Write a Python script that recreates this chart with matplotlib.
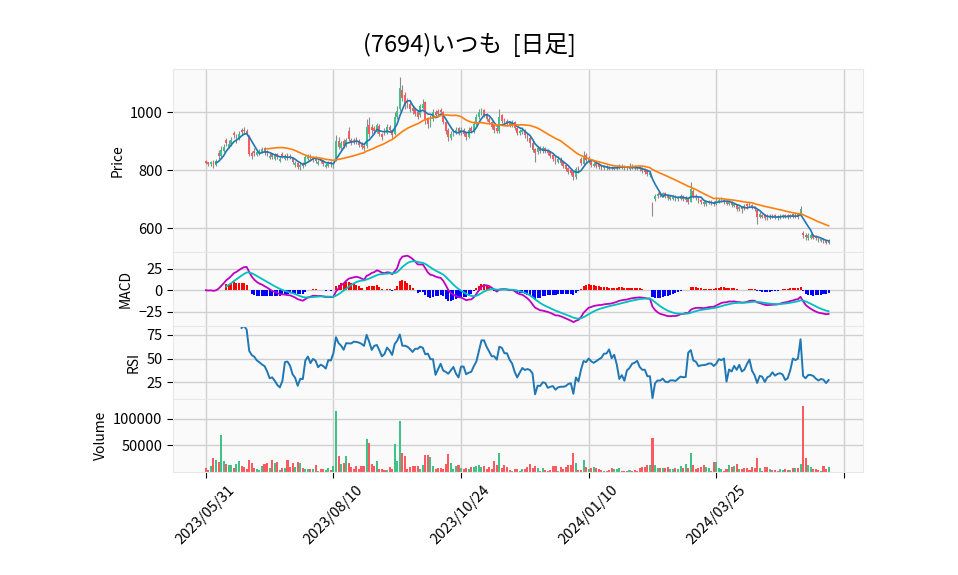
import numpy as np
import pandas as pd
import matplotlib
matplotlib.use('Agg')
import matplotlib.pyplot as plt

plt.rcParams['font.family'] = ['Noto Sans CJK JP', 'DejaVu Sans']

title = '(7694)いつも  [日足]'
tick_pos = [0, 50, 100, 150, 200, 250]
tick_labels = ['2023/05/31', '2023/08/10', '2023/10/24', '2024/01/10', '2024/03/25', '']

# daily OHLCV (245 sessions)
opens = [
    832, 828, 820, 830, 818, 858, 848, 868, 905, 880,
    890, 928, 900, 912, 938, 940, 936, 918, 860, 868,
    852, 858, 862, 875, 866, 842, 856, 840, 856, 832,
    856, 840, 852, 850, 842, 818, 826, 810, 822, 818,
    840, 850, 836, 845, 822, 838, 832, 812, 816, 828,
    815, 835, 902, 878, 900, 885, 935, 905, 905, 908,
    902, 890, 885, 882, 955, 948, 945, 932, 952, 925,
    938, 930, 950, 938, 925, 985, 1010, 1078, 1060, 1038,
    1030, 1015, 1010, 1000, 990, 1015, 1035, 980, 955, 975,
    1002, 1005, 1008, 1000, 965, 940, 912, 925, 930, 945,
    928, 940, 928, 915, 945, 935, 960, 985, 995, 1008,
    992, 978, 965, 955, 945, 935, 990, 975, 970, 962,
    955, 965, 945, 928, 932, 938, 922, 912, 895, 872,
    862, 878, 866, 875, 868, 862, 852, 842, 830, 840,
    828, 818, 808, 800, 795, 775, 808, 840, 822, 852,
    832, 835, 815, 825, 820, 815, 806, 814, 810, 812,
    804, 806, 808, 816, 814, 812, 805, 815, 814, 812,
    810, 808, 804, 800, 785, 685, 700, 710, 722, 712,
    720, 714, 702, 702, 710, 700, 702, 712, 698, 705,
    692, 728, 712, 705, 698, 692, 682, 686, 692, 690,
    684, 692, 694, 698, 692, 684, 692, 676, 680, 665,
    672, 678, 682, 685, 680, 674, 662, 640, 646, 644,
    644, 636, 646, 644, 642, 636, 640, 646, 645, 638,
    648, 640, 648, 645, 582, 578, 566, 568, 575, 572,
    566, 556, 562, 556, 550,
]
highs = [
    835, 830, 832, 834, 840, 870, 885, 892, 912, 905,
    915, 935, 925, 935, 945, 948, 942, 922, 868, 875,
    870, 872, 880, 880, 870, 858, 860, 858, 860, 845,
    862, 855, 858, 855, 846, 832, 830, 825, 828, 852,
    856, 855, 850, 848, 835, 842, 835, 825, 832, 832,
    830, 922, 915, 902, 908, 912, 948, 912, 910, 915,
    908, 896, 892, 975, 985, 958, 952, 962, 958, 930,
    945, 958, 955, 942, 1000, 1020, 1122, 1095, 1070, 1048,
    1035, 1022, 1015, 1008, 1028, 1045, 1040, 985, 990, 1010,
    1008, 1012, 1015, 1005, 970, 945, 935, 942, 948, 950,
    948, 945, 932, 948, 952, 968, 995, 1010, 1015, 1012,
    998, 985, 970, 962, 952, 1010, 995, 980, 975, 968,
    972, 968, 950, 942, 948, 942, 928, 918, 900, 878,
    882, 882, 882, 880, 872, 865, 856, 848, 848, 845,
    832, 822, 812, 806, 800, 812, 815, 845, 865, 858,
    848, 840, 828, 830, 825, 820, 818, 818, 815, 816,
    815, 818, 822, 820, 818, 816, 825, 820, 818, 816,
    815, 812, 808, 805, 798, 690, 718, 724, 726, 726,
    725, 718, 716, 714, 714, 712, 718, 716, 712, 708,
    758, 735, 718, 710, 702, 696, 695, 698, 696, 694,
    708, 705, 706, 702, 696, 698, 695, 688, 684, 678,
    676, 682, 688, 690, 684, 678, 665, 655, 650, 648,
    648, 648, 650, 648, 646, 648, 650, 650, 648, 650,
    652, 652, 652, 678, 590, 582, 584, 582, 580, 576,
    570, 568, 566, 560, 562,
]
lows = [
    822, 815, 816, 808, 815, 840, 845, 862, 885, 875,
    885, 912, 895, 905, 920, 925, 918, 850, 840, 850,
    848, 852, 858, 852, 850, 838, 838, 836, 840, 828,
    842, 836, 835, 838, 822, 812, 805, 802, 808, 815,
    835, 832, 830, 825, 818, 825, 815, 808, 812, 812,
    808, 832, 872, 870, 878, 880, 900, 888, 890, 892,
    880, 872, 865, 878, 915, 925, 925, 928, 918, 905,
    920, 925, 932, 912, 920, 978, 1005, 1040, 1010, 1015,
    1000, 995, 988, 975, 985, 1010, 960, 945, 950, 970,
    982, 985, 990, 958, 925, 900, 905, 918, 925, 922,
    922, 918, 905, 910, 928, 930, 955, 978, 990, 982,
    968, 958, 942, 930, 928, 930, 962, 955, 952, 948,
    950, 938, 922, 922, 925, 912, 900, 880, 862, 830,
    855, 860, 860, 858, 852, 842, 832, 822, 825, 818,
    808, 798, 788, 782, 765, 770, 792, 818, 818, 828,
    826, 812, 810, 808, 805, 802, 802, 802, 800, 800,
    800, 802, 805, 805, 802, 800, 802, 805, 802, 800,
    798, 792, 788, 780, 775, 643, 695, 705, 708, 708,
    705, 698, 698, 698, 695, 695, 698, 695, 692, 685,
    690, 705, 698, 688, 684, 676, 678, 682, 680, 676,
    680, 688, 690, 685, 680, 680, 672, 672, 660, 660,
    652, 664, 668, 672, 665, 658, 616, 635, 634, 628,
    630, 632, 634, 632, 630, 632, 636, 634, 632, 634,
    634, 636, 632, 642, 568, 560, 560, 562, 562, 558,
    552, 552, 548, 545, 546,
]
closes = [
    826, 822, 828, 818, 832, 850, 870, 880, 895, 890,
    905, 920, 910, 925, 932, 935, 928, 855, 848, 858,
    862, 865, 872, 860, 858, 850, 845, 852, 846, 838,
    850, 848, 842, 845, 830, 825, 812, 818, 815, 845,
    850, 840, 845, 832, 828, 832, 822, 818, 826, 820,
    825, 900, 880, 895, 885, 905, 908, 895, 898, 900,
    888, 880, 878, 950, 925, 940, 935, 955, 925, 915,
    930, 950, 940, 920, 985, 1005, 1085, 1050, 1025, 1030,
    1010, 1005, 995, 985, 1020, 1030, 975, 960, 980, 1000,
    990, 995, 1000, 965, 935, 915, 925, 935, 940, 930,
    940, 925, 915, 940, 935, 960, 985, 1000, 1010, 990,
    975, 965, 950, 940, 935, 985, 970, 965, 960, 955,
    965, 945, 930, 935, 940, 920, 910, 895, 870, 860,
    875, 868, 875, 865, 860, 850, 840, 830, 840, 825,
    815, 805, 795, 790, 775, 805, 800, 825, 850, 835,
    840, 818, 822, 815, 812, 808, 812, 808, 805, 806,
    810, 812, 815, 810, 808, 806, 812, 810, 808, 806,
    805, 798, 795, 788, 792, 675, 712, 718, 715, 720,
    712, 705, 710, 708, 702, 706, 712, 700, 705, 690,
    735, 712, 705, 695, 690, 684, 690, 692, 686, 682,
    695, 698, 700, 690, 685, 692, 680, 682, 668, 672,
    665, 670, 675, 680, 672, 665, 640, 648, 640, 635,
    638, 642, 640, 638, 636, 642, 645, 640, 638, 645,
    640, 646, 640, 668, 575, 570, 578, 576, 568, 565,
    560, 562, 555, 550, 556,
]
volumes = [
    8600, 4300, 11700, 26500, 22200, 18500, 69000, 21000, 15400, 13600,
    13600, 7400, 14800, 20400, 11700, 10500, 6200, 22800, 17900, 8600,
    6200, 4300, 11700, 15400, 17300, 8600, 22800, 17900, 19100, 4300,
    7400, 7400, 22800, 9900, 16700, 10500, 19100, 17300, 7400, 6200,
    6200, 6200, 6200, 13600, 3100, 6200, 6200, 3700, 8000, 3700,
    11700, 113500, 30200, 15400, 17300, 30200, 17300, 9900, 6200, 11700,
    6200, 11700, 11700, 61700, 53700, 15400, 11700, 21000, 6200, 6200,
    4300, 4300, 9900, 6200, 52400, 21600, 95000, 35800, 30200, 6200,
    10500, 11700, 11700, 11700, 6200, 13600, 32100, 32100, 28400, 11700,
    6200, 8000, 8000, 6200, 15400, 34000, 17300, 6200, 11700, 13600,
    8000, 6200, 8000, 6200, 9900, 9900, 11700, 13000, 10500, 11700,
    6200, 9900, 6200, 21000, 13600, 35800, 8000, 13600, 9900, 4300,
    2500, 6200, 6200, 2500, 6200, 6200, 9900, 15400, 8000, 11700,
    8000, 2500, 8000, 4300, 2500, 4300, 11700, 11700, 2500, 9900,
    6200, 9900, 13600, 13600, 35800, 17300, 4300, 4300, 22800, 9900,
    6200, 8000, 9900, 8000, 6200, 4300, 2500, 2500, 4300, 8000,
    6200, 6200, 8000, 2500, 3100, 2500, 4300, 2500, 4300, 2500,
    8000, 9900, 9900, 13600, 13600, 63000, 13600, 8000, 8000, 8000,
    8000, 9900, 6200, 6200, 8000, 6200, 11700, 8000, 15400, 8000,
    35200, 13600, 6200, 8000, 9900, 13000, 9900, 8000, 2500, 18500,
    18500, 8000, 6200, 2500, 6200, 13600, 9900, 11700, 15400, 6200,
    6200, 8000, 8000, 4300, 9900, 8000, 26500, 8000, 2500, 9900,
    9900, 6200, 4300, 4300, 2500, 6200, 4300, 6200, 4300, 4300,
    8000, 8000, 8000, 15400, 124600, 26500, 13600, 9900, 6200, 6200,
    4300, 2500, 11700, 6200, 9900,
]

df = pd.DataFrame({'Open': opens, 'High': highs, 'Low': lows,
                   'Close': closes, 'Volume': volumes})
x = np.arange(len(df))
up = (df['Close'] >= df['Open']).values
up_color, down_color = '#3fc287', '#fd5a5f'
bar_colors = np.where(up, up_color, down_color)

# indicators
ma5 = df['Close'].rolling(5).mean()
ma25 = df['Close'].rolling(25).mean()
ema12 = df['Close'].ewm(span=12, adjust=False).mean()
ema26 = df['Close'].ewm(span=26, adjust=False).mean()
macd = ema12 - ema26
signal = macd.ewm(span=9, adjust=False, min_periods=9).mean()
hist = macd - signal
delta = df['Close'].diff()
gain = delta.clip(lower=0).rolling(14).mean()
loss = (-delta.clip(upper=0)).rolling(14).mean()
rsi = 100 - 100 / (1 + gain / loss)

fig = plt.figure(figsize=(9.58, 5.75), dpi=100)
L, W = 0.1806, 0.7203
ax_p = fig.add_axes([L, 0.5612, W, 0.3188])
ax_m = fig.add_axes([L, 0.4337, W, 0.1275], sharex=ax_p)
ax_r = fig.add_axes([L, 0.3063, W, 0.1274], sharex=ax_p)
ax_v = fig.add_axes([L, 0.1788, W, 0.1275], sharex=ax_p)

for ax in (ax_p, ax_m, ax_r, ax_v):
    ax.set_facecolor('#fafafa')
    ax.grid(True, color='#d0d0d0', linewidth=1.0)
    ax.set_axisbelow(True)
    for s in ax.spines.values():
        s.set_color('#e8e8e8')
    ax.tick_params(axis='y', labelsize=10.5, length=4, width=0.8)
for ax in (ax_p, ax_m, ax_r):
    ax.tick_params(axis='x', labelbottom=False, length=0)

# price panel
ax_p.vlines(x, df['Low'], df['High'], color='#8c8c8c', linewidth=0.8, zorder=2)
body = np.maximum((df['Close'] - df['Open']).abs().values, 1.5)
ax_p.bar(x, body, bottom=np.minimum(df['Open'], df['Close']), width=0.7,
         color=bar_colors, linewidth=0, zorder=3)
ax_p.plot(x, ma5, color='#1f77b4', linewidth=1.2, zorder=4)
ax_p.plot(x, ma25, color='#ff7f0e', linewidth=1.2, zorder=4)
ax_p.set_ylim(517, 1149)
ax_p.set_yticks([600, 800, 1000])
ax_p.set_ylabel('Price', fontsize=10)

# MACD panel
ax_m.bar(x, hist, width=0.8, color=np.where(hist > 0, 'red', 'blue'), linewidth=0, zorder=2)
ax_m.plot(x, macd, color='m', linewidth=1.3, zorder=3)
ax_m.plot(x, signal, color='c', linewidth=1.3, zorder=3)
ax_m.set_ylim(-41.5, 44.5)
ax_m.set_yticks([-25, 0, 25])
ax_m.set_ylabel('MACD', fontsize=10)

# RSI panel
ax_r.plot(x, rsi, color='#1f77b4', linewidth=1.4)
ax_r.set_ylim(7.3, 84.8)
ax_r.set_yticks([25, 50, 75])
ax_r.set_ylabel('RSI', fontsize=10)

# volume panel
ax_v.bar(x, df['Volume'], width=0.8, color=bar_colors, linewidth=0)
ax_v.set_ylim(0, 137000)
ax_v.set_yticks([50000, 100000])
ax_v.set_yticklabels(['50000', '100000'])
ax_v.set_ylabel('Volume', fontsize=10)

ax_v.set_xlim(-12.85, 257.5)
ax_v.set_xticks(tick_pos)
ax_v.set_xticklabels(tick_labels, rotation=45, ha='center', fontsize=10.5)
ax_v.tick_params(axis='x', length=4, width=0.8)

fig.text(469 / 958, 1 - 45 / 575, title, ha='center', va='center', fontsize=17)

fig.savefig('out.png', dpi=100)
